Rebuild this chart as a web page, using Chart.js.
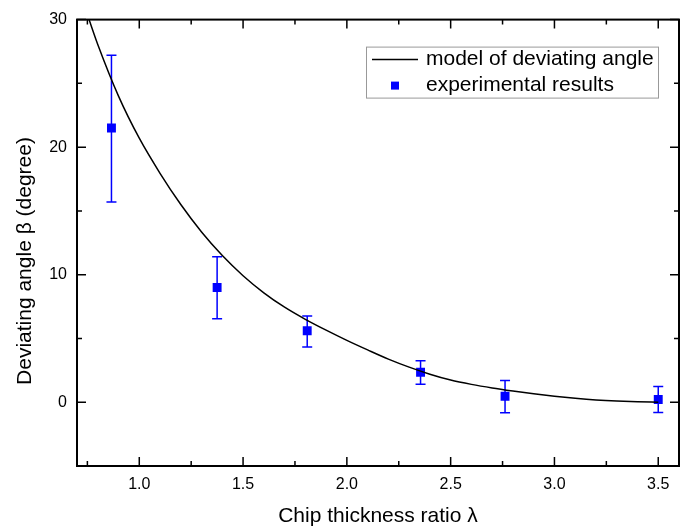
<!DOCTYPE html>
<html lang="en">
<head>
<meta charset="UTF-8">
<title>Deviating angle</title>
<script src="https://cdn.jsdelivr.net/npm/chart.js"></script>
<style>
    body { margin: 0; background: #fff; }
    #caixa { width: 688px; height: 531px; }
</style>
</head>
<body>

<div id="caixa">
    <canvas id="grafico" width="688" height="531"></canvas>
</div>

<script>
    // model curve
    const modeloX = [0.758, 0.8, 0.9, 1.0, 1.1, 1.2, 1.3, 1.4, 1.5, 1.6, 1.7, 1.8, 1.9, 2.0, 2.1, 2.2, 2.3, 2.4, 2.5, 2.6, 2.7, 2.8, 2.9, 3.0, 3.1, 3.2, 3.3, 3.4, 3.5];
    const modeloY = [30, 28.05, 24.0, 20.7, 17.95, 15.5, 13.35, 11.5, 9.92, 8.58, 7.45, 6.5, 5.65, 4.85, 4.1, 3.38, 2.75, 2.2, 1.74, 1.4, 1.12, 0.88, 0.66, 0.47, 0.31, 0.18, 0.09, 0.03, 0];

    // experimental results with error bars
    const expX = [0.866, 1.375, 1.809, 2.355, 2.762, 3.50];
    const expY = [21.5, 9.0, 5.6, 2.35, 0.47, 0.21];
    const expErrHigh = [27.2, 11.4, 6.76, 3.25, 1.71, 1.24];
    const expErrLow = [15.7, 6.55, 4.33, 1.4, -0.83, -0.8];

    // axes
    const xTicks = [1.0, 1.5, 2.0, 2.5, 3.0, 3.5];
    const xTickLabels = ['1.0', '1.5', '2.0', '2.5', '3.0', '3.5'];
    const xMinor = [0.75, 1.25, 1.75, 2.25, 2.75, 3.25];
    const yTicks = [0, 10, 20, 30];
    const yTickLabels = ['0', '10', '20', '30'];
    const yMinor = [5, 15, 25];

    const tituloX = 'Chip thickness ratio λ';
    const tituloY = 'Deviating angle β (degree)';

    const fonte = 'Liberation Sans, Arial, sans-serif';

    // frame, inner ticks, error bars, legend and y title
    const moldura = {
        id: 'moldura',
        beforeDatasetsDraw(chart) {
            const ctx = chart.ctx;
            const sx = chart.scales.x;
            const sy = chart.scales.y;
            ctx.save();
            ctx.strokeStyle = '#0000ff';
            ctx.lineWidth = 1.5;
            expX.forEach(function (v, i) {
                const px = sx.getPixelForValue(v);
                const alto = sy.getPixelForValue(expErrHigh[i]);
                const baixo = sy.getPixelForValue(expErrLow[i]);
                ctx.beginPath();
                ctx.moveTo(px, alto); ctx.lineTo(px, baixo);
                ctx.moveTo(px - 5, alto); ctx.lineTo(px + 5, alto);
                ctx.moveTo(px - 5, baixo); ctx.lineTo(px + 5, baixo);
                ctx.stroke();
            });
            ctx.restore();
        },
        afterDraw(chart) {
            const ctx = chart.ctx;
            const area = chart.chartArea;
            const sx = chart.scales.x;
            const sy = chart.scales.y;
            ctx.save();

            // ticks pointing inward, on all four sides
            ctx.strokeStyle = '#000';
            ctx.lineWidth = 1.5;
            ctx.beginPath();
            function marcaX(v, tam) {
                const px = sx.getPixelForValue(v);
                ctx.moveTo(px, area.bottom); ctx.lineTo(px, area.bottom - tam);
                ctx.moveTo(px, area.top); ctx.lineTo(px, area.top + tam);
            }
            function marcaY(v, tam) {
                const py = sy.getPixelForValue(v);
                ctx.moveTo(area.left, py); ctx.lineTo(area.left + tam, py);
                ctx.moveTo(area.right, py); ctx.lineTo(area.right - tam, py);
            }
            xTicks.forEach(v => marcaX(v, 9));
            xMinor.forEach(v => marcaX(v, 5));
            yTicks.forEach(v => marcaY(v, 9));
            yMinor.forEach(v => marcaY(v, 5));
            ctx.stroke();

            ctx.lineWidth = 2;
            ctx.strokeRect(area.left, area.top, area.right - area.left, area.bottom - area.top);

            // legend box
            const lx = area.right - 313;
            const ly = area.top + 27;
            ctx.lineWidth = 1;
            ctx.strokeStyle = '#999';
            ctx.strokeRect(lx + 0.5, ly + 0.5, 292, 51);

            ctx.strokeStyle = '#000';
            ctx.lineWidth = 1.5;
            ctx.beginPath();
            ctx.moveTo(lx + 6, ly + 13);
            ctx.lineTo(lx + 52, ly + 13);
            ctx.stroke();

            ctx.fillStyle = '#0000ff';
            ctx.fillRect(lx + 25, ly + 35, 8, 8);

            ctx.fillStyle = '#000';
            ctx.font = '21px ' + fonte;
            ctx.textBaseline = 'middle';
            ctx.textAlign = 'left';
            ctx.fillText(chart.data.datasets[0].label, lx + 60, ly + 13);
            ctx.fillText(chart.data.datasets[1].label, lx + 60, ly + 39);

            // y title
            ctx.translate(25, 261);
            ctx.rotate(-Math.PI / 2);
            ctx.textAlign = 'center';
            ctx.fillText(tituloY, 0, 0);

            ctx.restore();
        }
    };

    let dados = {
        datasets: [{
            label: 'model of deviating angle',
            data: modeloX.map((v, i) => ({ x: v, y: modeloY[i] })),
            showLine: true,
            borderColor: '#000',
            borderWidth: 1.5,
            pointRadius: 0,
            cubicInterpolationMode: 'monotone',
            fill: false
        },
        {
            label: 'experimental results',
            data: expX.map((v, i) => ({ x: v, y: expY[i] })),
            showLine: false,
            pointStyle: 'rect',
            pointRadius: 6.3,
            backgroundColor: '#0000ff',
            borderWidth: 0
        }]
    };

    const config = {
        type: 'scatter',
        data: dados,
        options: {
            responsive: false,
            animation: false,
            devicePixelRatio: 1,
            layout: { padding: { top: 16, right: 9, left: 0, bottom: 0 } },
            plugins: {
                legend: { display: false },
                tooltip: { enabled: false }
            },
            scales: {
                x: {
                    type: 'linear',
                    min: 0.7,
                    max: 3.6,
                    afterBuildTicks: s => { s.ticks = xTicks.map(v => ({ value: v })); },
                    afterFit: s => { s.height = 65; },
                    grid: { display: false, drawTicks: false },
                    border: { display: false },
                    ticks: {
                        callback: (v, i) => xTickLabels[i],
                        font: { family: fonte, size: 16 },
                        color: '#000',
                        padding: 9,
                        maxRotation: 0,
                        autoSkip: false
                    },
                    title: {
                        display: true,
                        text: tituloX,
                        font: { family: fonte, size: 21 },
                        color: '#000',
                        padding: { top: 0, bottom: 2 }
                    }
                },
                y: {
                    min: -5,
                    max: 30,
                    afterBuildTicks: s => { s.ticks = yTicks.map(v => ({ value: v })); },
                    afterFit: s => { s.width = 77; },
                    grid: { display: false, drawTicks: false },
                    border: { display: false },
                    ticks: {
                        callback: (v, i) => yTickLabels[i],
                        font: { family: fonte, size: 16 },
                        color: '#000',
                        padding: 10,
                        autoSkip: false
                    }
                }
            }
        },
        plugins: [moldura]
    };

    let myChart = new Chart(document.getElementById('grafico'), config);
</script>
</body>
</html>
